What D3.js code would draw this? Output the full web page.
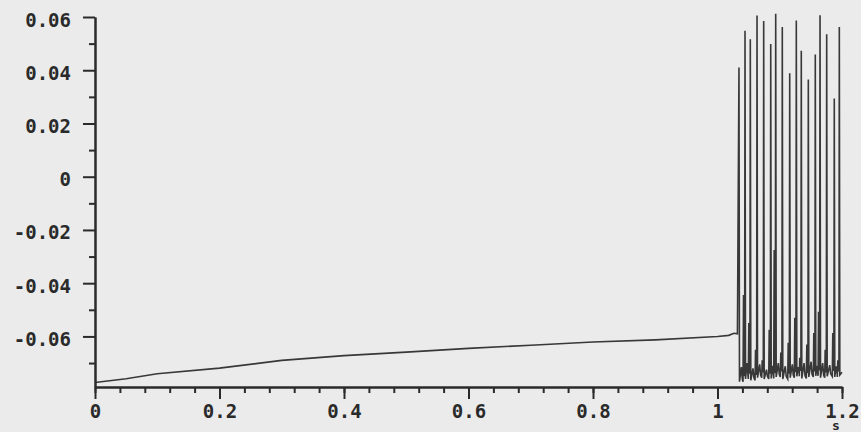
<!DOCTYPE html>
<html>
<head>
<meta charset="utf-8">
<script src="https://cdn.jsdelivr.net/npm/d3@7"></script>
<style>
  html, body { margin: 0; padding: 0; background: #ebebeb; }
  svg { display: block; }
  .lbl { font-family: "DejaVu Sans Mono", monospace; font-weight: bold; font-size: 19px; fill: #2a2a2a; }
</style>
</head>
<body>
<div id="chart"></div>
<script>
// slow ramp before the burst (time s, value)
const baseT = [0, 0.05, 0.1, 0.2, 0.3, 0.4, 0.5, 0.6, 0.7, 0.8, 0.9, 1.0, 1.018, 1.0265, 1.032];
const baseV = [-0.0773, -0.0759, -0.0740, -0.0719, -0.0690, -0.0672, -0.0659, -0.0645, -0.0633, -0.0621, -0.0613, -0.0600, -0.0596, -0.0588, -0.0590];

// spikes of the burst
const spikeT = [1.0345, 1.0442, 1.0527, 1.0635, 1.0742, 1.0855, 1.0935, 1.1041, 1.1160,
                1.1266, 1.1346, 1.1459, 1.1571, 1.1647, 1.1754, 1.1876, 1.1957];
const spikePeak = [0.0410, 0.0548, 0.0516, 0.0606, 0.0585, 0.0499, 0.0612, 0.0562, 0.0389,
                   0.0587, 0.0473, 0.0365, 0.0459, 0.0607, 0.0535, 0.0294, 0.0562];
// dark shoulder just before each spike (null = none)
const spikeShoulder = [null, -0.0444, -0.0550, -0.0650, -0.0690, -0.0575, -0.0275, -0.0660, -0.0624,
                       -0.0530, -0.0680, -0.0630, -0.0587, -0.0507, -0.0650, -0.0587, -0.0690];
const spikeTrough = [-0.0770, -0.0760, -0.0765, -0.0755, -0.0760, -0.0758, -0.0752, -0.0760, -0.0755,
                     -0.0750, -0.0758, -0.0752, -0.0748, -0.0755, -0.0750, -0.0752, -0.0745];
const gapBump = [-0.0715, -0.0700, -0.0720, -0.0705, -0.0725, -0.0710, -0.0700, -0.0712, -0.0705,
                 -0.0715, -0.0700, -0.0695, -0.0710, -0.0700, -0.0708, -0.0712, -0.0720];
const endV = -0.0735;

const xTicks = [0, 0.2, 0.4, 0.6, 0.8, 1, 1.2];
const xTickLabels = ["0", "0.2", "0.4", "0.6", "0.8", "1", "1.2"];
const xMinor = d3.range(0, 1.2001, 0.04);
const yTicks = [0.06, 0.04, 0.02, 0, -0.02, -0.04, -0.06];
const yTickLabels = ["0.06", "0.04", "0.02", "0", "-0.02", "-0.04", "-0.06"];
const yMinor = [0.05, 0.03, 0.01, -0.01, -0.03, -0.05, -0.07];
const xUnit = "s";

const width = 861, height = 432;

const svg = d3.select("#chart").append("svg")
    .attr("width", width)
    .attr("height", height);

const x = d3.scaleLinear().domain([0, 1.2]).range([95, 842]);
const y = d3.scaleLinear().domain([-0.079, 0.06]).range([387, 17]);

// build the trace
let pts = baseT.map((t, i) => [t, baseV[i]]);
spikeT.forEach((t, i) => {
    if (spikeShoulder[i] !== null) {
        pts.push([t - 0.0032, spikeTrough[i - 1]]);
        pts.push([t - 0.0024, spikeShoulder[i]]);
        pts.push([t - 0.0018, spikeTrough[i - 1] + 0.002]);
        pts.push([t - 0.0011, spikeShoulder[i] - 0.002]);
        pts.push([t - 0.0006, spikeTrough[i - 1] + 0.003]);
    }
    pts.push([t, spikePeak[i]]);
    pts.push([t + 0.0008, spikeTrough[i]]);
    const next = i < spikeT.length - 1 ? spikeT[i + 1] : 1.2;
    const mid = t + (next - t) * 0.4;
    if (next - t > 0.006) {
        pts.push([mid, gapBump[i]]);
        pts.push([mid + 0.0015, spikeTrough[i] + 0.001]);
    }
});
pts.push([1.2, endV]);
pts.sort((a, b) => a[0] - b[0]);

const line = d3.line().x(d => x(d[0])).y(d => y(d[1]));

svg.append("path")
    .datum(pts)
    .attr("fill", "none")
    .attr("stroke", "#383838")
    .attr("stroke-width", 1.6)
    .attr("d", line);

// axes
function styleAxis(g) {
    g.select(".domain").attr("stroke", "#2a2a2a").attr("stroke-width", 2);
    g.selectAll(".tick line").attr("stroke", "#2a2a2a").attr("stroke-width", 2);
}

svg.append("g")
    .attr("transform", `translate(0,${y(-0.079)})`)
    .call(d3.axisBottom(x).tickValues(xMinor).tickSize(6).tickSizeOuter(0).tickFormat(""))
    .call(styleAxis);

const xa = svg.append("g")
    .attr("transform", `translate(0,${y(-0.079)})`)
    .call(d3.axisBottom(x).tickValues(xTicks).tickSize(12).tickSizeOuter(0)
        .tickFormat((d, i) => xTickLabels[i]))
    .call(styleAxis);
xa.selectAll("text").attr("class", "lbl").attr("y", 31).attr("dy", 0);
xa.attr("font-size", null).attr("font-family", null);

svg.append("g")
    .attr("transform", `translate(${x(0)},0)`)
    .call(d3.axisLeft(y).tickValues(yMinor).tickSize(6).tickSizeOuter(0).tickFormat(""))
    .call(styleAxis);

const ya = svg.append("g")
    .attr("transform", `translate(${x(0)},0)`)
    .call(d3.axisLeft(y).tickValues(yTicks).tickSize(12).tickSizeOuter(0)
        .tickFormat((d, i) => yTickLabels[i]))
    .call(styleAxis);
ya.selectAll("text").attr("class", "lbl").attr("x", -24).attr("dy", 9);
ya.attr("font-size", null).attr("font-family", null);

svg.append("text")
    .attr("class", "lbl")
    .attr("x", 836)
    .attr("y", 430)
    .attr("text-anchor", "middle")
    .style("font-size", "13px")
    .text(xUnit);
</script>
</body>
</html>
